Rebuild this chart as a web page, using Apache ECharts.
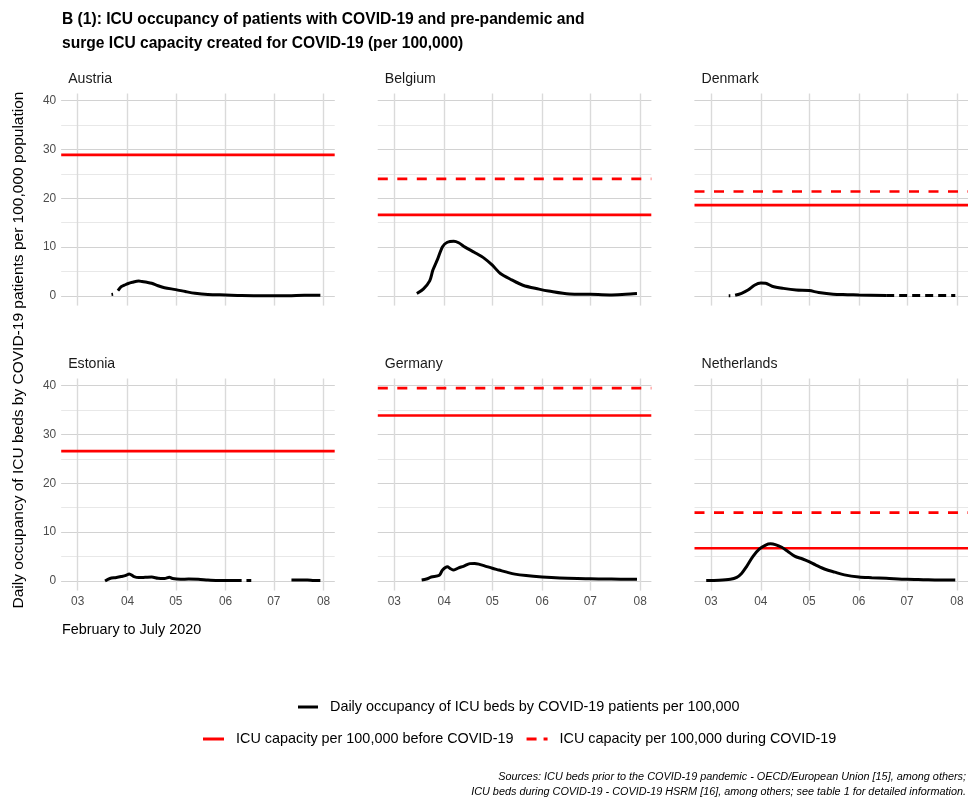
<!DOCTYPE html>
<html><head><meta charset="utf-8">
<script src="https://cdn.jsdelivr.net/npm/echarts@6/dist/echarts.min.js"></script>
<style>html,body{margin:0;padding:0;background:#fff}#chart{width:971px;height:803px}</style>
</head><body><div id="chart"></div>
<script>
// ---------------- DATA ----------------
const countries = ['Austria', 'Belgium', 'Denmark', 'Estonia', 'Germany', 'Netherlands'];

const austriaDates  = ['2020-03-22','2020-03-23','2020-03-24','2020-03-26','2020-03-27','2020-03-28','2020-03-30','2020-04-01','2020-04-04','2020-04-08','2020-04-10','2020-04-13','2020-04-16','2020-04-20','2020-04-24','2020-05-01','2020-05-07','2020-05-13','2020-05-21','2020-06-01','2020-06-11','2020-06-25','2020-07-10','2020-07-20','2020-07-30'];
const austriaValues = [0.3, 0.35, null, 1.1, 1.5, 1.9, 2.2, 2.5, 2.8, 3.05, 2.95, 2.8, 2.6, 2.1, 1.7, 1.3, 0.9, 0.55, 0.3, 0.2, 0.1, 0.05, 0.05, 0.15, 0.15];

const belgiumDates  = ['2020-03-15','2020-03-19','2020-03-23','2020-03-25','2020-03-28','2020-03-31','2020-04-03','2020-04-07','2020-04-10','2020-04-14','2020-04-20','2020-04-26','2020-05-01','2020-05-06','2020-05-13','2020-05-20','2020-05-30','2020-06-05','2020-06-18','2020-07-01','2020-07-13','2020-07-23','2020-07-30'];
const belgiumValues = [0.5, 1.4, 3.1, 5.3, 7.6, 10.1, 11.0, 11.2, 10.9, 10.0, 8.9, 7.7, 6.3, 4.6, 3.3, 2.2, 1.4, 1.0, 0.4, 0.34, 0.2, 0.34, 0.48];

const denmarkDates  = ['2020-03-12','2020-03-13','2020-03-14','2020-03-16','2020-03-20','2020-03-24','2020-03-28','2020-04-01','2020-04-04','2020-04-08','2020-04-15','2020-04-23','2020-05-01','2020-05-07','2020-05-16','2020-05-25','2020-06-01','2020-06-18'];
const denmarkValues = [0.05, 0.05, null, 0.15, 0.55, 1.2, 2.2, 2.65, 2.6, 2.0, 1.55, 1.2, 1.1, 0.7, 0.35, 0.27, 0.2, 0.07];
const denmarkDashedDates  = ['2020-06-18','2020-07-31'];
const denmarkDashedValues = [0.07, 0.07];

const estoniaDates  = ['2020-03-18','2020-03-21','2020-03-25','2020-03-28','2020-03-31','2020-04-02','2020-04-05','2020-04-08','2020-04-12','2020-04-16','2020-04-20','2020-04-24','2020-04-27','2020-04-29','2020-05-04','2020-05-09','2020-05-15','2020-05-21','2020-05-28','2020-06-05','2020-06-11','2020-06-12','2020-06-14','2020-06-17','2020-06-18','2020-07-12','2020-07-22','2020-07-26','2020-07-30'];
const estoniaValues = [0.0, 0.5, 0.7, 0.9, 1.15, 1.45, 0.9, 0.7, 0.75, 0.8, 0.55, 0.5, 0.75, 0.5, 0.35, 0.4, 0.35, 0.2, 0.07, 0.07, 0.07, null, 0.07, 0.07, null, 0.2, 0.2, 0.07, 0.07];

const germanyDates  = ['2020-03-18','2020-03-21','2020-03-24','2020-03-29','2020-03-31','2020-04-03','2020-04-05','2020-04-07','2020-04-10','2020-04-13','2020-04-17','2020-04-20','2020-04-23','2020-04-27','2020-05-01','2020-05-05','2020-05-10','2020-05-15','2020-05-22','2020-06-01','2020-06-12','2020-06-23','2020-07-01','2020-07-11','2020-07-21','2020-07-30'];
const germanyValues = [0.2, 0.4, 0.8, 1.15, 2.25, 2.9, 2.5, 2.25, 2.7, 3.0, 3.55, 3.6, 3.4, 3.0, 2.6, 2.25, 1.8, 1.4, 1.1, 0.82, 0.6, 0.48, 0.45, 0.4, 0.35, 0.35];

const netherlandsDates  = ['2020-02-27','2020-03-06','2020-03-13','2020-03-17','2020-03-20','2020-03-23','2020-03-27','2020-03-31','2020-04-04','2020-04-07','2020-04-10','2020-04-14','2020-04-18','2020-04-22','2020-04-27','2020-05-01','2020-05-05','2020-05-11','2020-05-17','2020-05-23','2020-06-01','2020-06-09','2020-06-18','2020-07-01','2020-07-11','2020-07-21','2020-07-31'];
const netherlandsValues = [0.07, 0.14, 0.35, 0.75, 1.55, 2.9, 5.0, 6.5, 7.35, 7.6, 7.45, 6.9, 6.0, 5.1, 4.5, 3.95, 3.3, 2.4, 1.8, 1.25, 0.82, 0.68, 0.55, 0.34, 0.27, 0.2, 0.2];

// ICU capacity per 100,000 (before / during COVID-19), same order as countries
const capacityBefore = [28.9, 16.6, 18.6, 26.6, 33.9, 6.7];
const capacityDuring = [null, 24.0, 21.4, null, 39.5, 14.0];

const monthTickLabels = {3: '03', 4: '04', 5: '05', 6: '06', 7: '07', 8: '08'};
const yTickLabels = [0, 10, 20, 30, 40];

const occupancyName = 'Daily occupancy of ICU beds by COVID-19 patients per 100,000';
const beforeName = 'ICU capacity per 100,000 before COVID-19';
const duringName = 'ICU capacity per 100,000 during COVID-19';

// ---------------- LAYOUT / STYLE ----------------
const FONT = '"Liberation Sans", Arial, sans-serif';

const X_MIN = +new Date(2020, 1, 19, 17);
const X_MAX = +new Date(2020, 7, 7, 22);
const Y_MIN = -1.975, Y_MAX = 41.475;

const gridLefts = [61.2, 377.8, 694.5];
const gridTops = [93.5, 378.5];
const GW = 273.5, GH = 212.1;

const packs = [
  [austriaDates, austriaValues], [belgiumDates, belgiumValues], [denmarkDates, denmarkValues],
  [estoniaDates, estoniaValues], [germanyDates, germanyValues], [netherlandsDates, netherlandsValues]
];

const grid = [], xAxis = [], yAxis = [], series = [], graphics = [];
countries.forEach((name, i) => {
  const row = Math.floor(i / 3), col = i % 3;
  grid.push({left: gridLefts[col], top: gridTops[row], width: GW, height: GH, containLabel: false});
  xAxis.push({
    type: 'time', gridIndex: i, min: X_MIN, max: X_MAX, splitNumber: 5, position: 'bottom',
    axisLine: {show: false}, axisTick: {show: false},
    axisLabel: {
      show: row === 1, color: '#4d4d4d', fontSize: 11.9, fontFamily: FONT, margin: 5,
      hideOverlap: false,
      formatter: v => { const d = new Date(v); return (d.getDate() === 1 && d.getHours() === 0) ? (monthTickLabels[d.getMonth() + 1] || '') : ''; }
    },
    splitLine: {show: true, showMinLine: false, showMaxLine: false, lineStyle: {color: '#dadada', width: 1.4}}
  });
  // minor horizontal grid (every 5)
  yAxis.push({
    type: 'value', gridIndex: i, min: Y_MIN, max: Y_MAX, splitNumber: 9, position: 'left', offset: 0,
    axisLine: {show: false}, axisTick: {show: false}, axisLabel: {show: false},
    splitLine: {show: true, showMinLine: false, showMaxLine: false, lineStyle: {color: '#e8e8e8', width: 1}}
  });
  // major horizontal grid + labels (every 10)
  yAxis.push({
    type: 'value', gridIndex: i, min: Y_MIN, max: Y_MAX, splitNumber: 4, position: 'left', offset: 0,
    axisLine: {show: false}, axisTick: {show: false},
    axisLabel: {
      show: col === 0, color: '#4d4d4d', fontSize: 11.9, fontFamily: FONT, margin: 5,
      formatter: v => (yTickLabels.indexOf(v) >= 0 ? String(v) : '')
    },
    splitLine: {show: true, showMinLine: false, showMaxLine: false, lineStyle: {color: '#d2d2d2', width: 1}}
  });
  const yIdx = i * 2 + 1;
  const [dates, vals] = packs[i];
  series.push({
    name: beforeName, type: 'line', xAxisIndex: i, yAxisIndex: yIdx,
    data: [[X_MIN, capacityBefore[i]], [X_MAX, capacityBefore[i]]],
    symbol: 'none', silent: true, z: 2,
    itemStyle: {color: '#ff0000'}, lineStyle: {color: '#ff0000', width: 2.7, type: 'solid'}
  });
  series.push({
    name: duringName, type: 'line', xAxisIndex: i, yAxisIndex: yIdx,
    data: capacityDuring[i] == null ? [] : [[X_MIN, capacityDuring[i]], [X_MAX, capacityDuring[i]]],
    symbol: 'none', silent: true, z: 2,
    itemStyle: {color: '#ff0000'}, lineStyle: {color: '#ff0000', width: 2.7, type: [10, 9.5]}
  });
  series.push({
    name: occupancyName, type: 'line', xAxisIndex: i, yAxisIndex: yIdx,
    data: dates.map((d, k) => [d, vals[k]]),
    symbol: 'none', showSymbol: false, connectNulls: false, smooth: 0.3, silent: true, z: 3,
    itemStyle: {color: '#000'}, lineStyle: {color: '#000', width: 3}
  });
  if (name === 'Denmark') {
    series.push({
      name: 'Denmark (estimated)', type: 'line', xAxisIndex: i, yAxisIndex: yIdx,
      data: denmarkDashedDates.map((d, k) => [d, denmarkDashedValues[k]]),
      symbol: 'none', silent: true, z: 3,
      itemStyle: {color: '#000'}, lineStyle: {color: '#000', width: 3, type: [8, 5]}
    });
  }
  graphics.push({
    type: 'text', x: gridLefts[col] + 7, y: gridTops[row] - 14.5,
    style: {text: name, font: '14.1px ' + FONT, fill: '#1a1a1a', align: 'left', verticalAlign: 'middle'}
  });
});

graphics.push({
  type: 'text', x: 19, y: 350, rotation: Math.PI / 2,
  style: {text: 'Daily occupancy of ICU beds by COVID-19 patients per 100,000 population', font: '15.5px ' + FONT, fill: '#000', align: 'center', verticalAlign: 'middle'}
});
graphics.push({
  type: 'text', x: 62, y: 630,
  style: {text: 'February to July 2020', font: '14.4px ' + FONT, fill: '#000', align: 'left', verticalAlign: 'middle'}
});
graphics.push({
  type: 'text', x: 966, y: 777,
  style: {text: 'Sources: ICU beds prior to the COVID-19 pandemic - OECD/European Union [15], among others;', font: 'italic 10.85px ' + FONT, fill: '#000', align: 'right', verticalAlign: 'middle'}
});
graphics.push({
  type: 'text', x: 966, y: 792,
  style: {text: 'ICU beds during COVID-19 - COVID-19 HSRM [16], among others; see table 1 for detailed information.', font: 'italic 10.85px ' + FONT, fill: '#000', align: 'right', verticalAlign: 'middle'}
});

const chart = echarts.init(document.getElementById('chart'), null, {renderer: 'canvas'});
chart.setOption({
  animation: false,
  backgroundColor: '#ffffff',
  textStyle: {fontFamily: FONT},
  title: {
    text: 'B (1): ICU occupancy of patients with COVID-19 and pre-pandemic and\nsurge ICU capacity created for COVID-19 (per 100,000)',
    left: 62, top: 8, padding: 0,
    textStyle: {fontFamily: FONT, fontWeight: 'bold', fontSize: 15.6, lineHeight: 24, color: '#000'}
  },
  legend: [
    {
      data: [{name: occupancyName, icon: 'path://M0,0h20v3h-20z'}],
      left: 298, top: 700, orient: 'horizontal', padding: 0,
      itemWidth: 20, itemHeight: 3, selectedMode: false,
      textStyle: {fontFamily: FONT, fontSize: 14.4, color: '#000', padding: [0, 0, 0, 7]}
    },
    {
      data: [
        {name: beforeName, icon: 'path://M0,0h21v3h-21z'},
        {name: duringName, icon: 'path://M0,0h10v3h-10zM17,0h4v3h-4z'}
      ],
      left: 203, top: 732, orient: 'horizontal', padding: 0,
      itemWidth: 21, itemHeight: 3, itemGap: 13, selectedMode: false,
      textStyle: {fontFamily: FONT, fontSize: 14.4, color: '#000', padding: [0, 0, 0, 7]}
    }
  ],
  grid, xAxis, yAxis, series,
  graphic: graphics
});
</script>
</body></html>
